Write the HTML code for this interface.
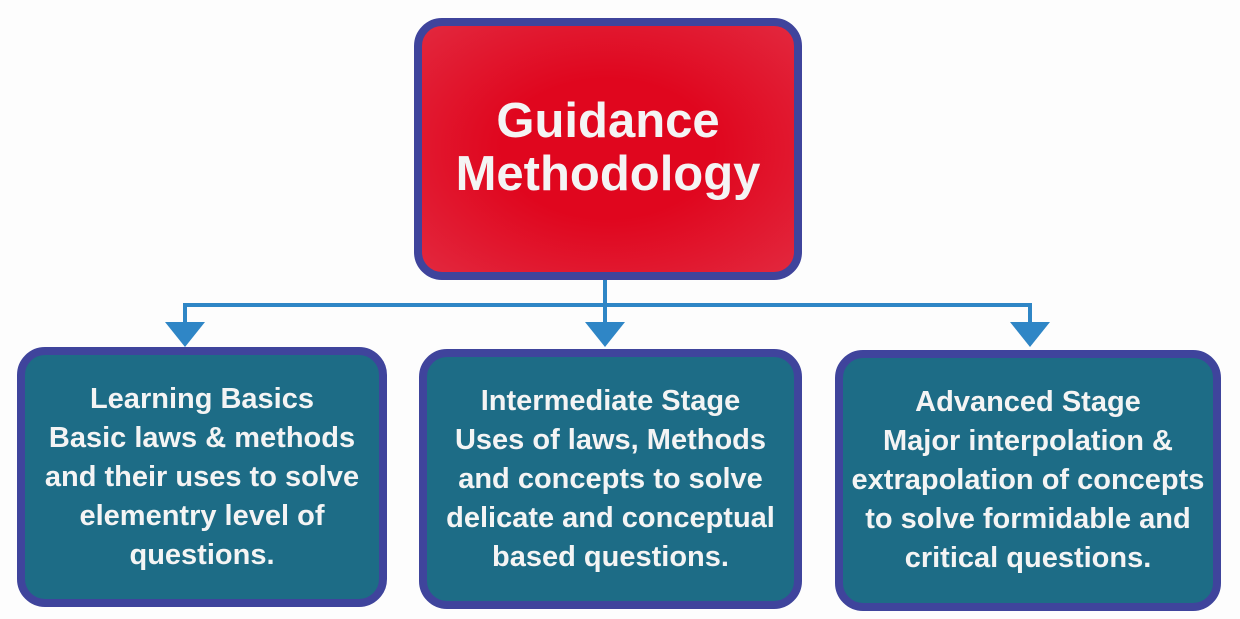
<!DOCTYPE html>
<html><head><style>
body{margin:0;width:1240px;height:619px;background:#fdfdfd;position:relative;overflow:hidden;font-family:"Liberation Sans Narrow","Liberation Sans",sans-serif;}
.box{position:absolute;box-sizing:border-box;border:8px solid #3f449c;border-radius:28px;color:#f4f4f4;text-align:center;display:flex;align-items:center;justify-content:center;}
.red{left:414px;top:18px;width:388px;height:262px;background:radial-gradient(ellipse at center,#e0061e 40%,#e2283e 100%);font-family:"Liberation Sans",sans-serif;font-weight:bold;font-size:49px;line-height:53px;padding-bottom:2px;}
.teal{background:#1d6c86;font-size:29px;line-height:39px;font-weight:bold;}
</style></head><body>
<svg width="1240" height="619" style="position:absolute;left:0;top:0">
<g stroke="#2f86c6" stroke-width="4" fill="none">
<line x1="605" y1="278" x2="605" y2="326"/>
<line x1="185" y1="305" x2="1032" y2="305"/>
<line x1="185" y1="303" x2="185" y2="326"/>
<line x1="1030" y1="303" x2="1030" y2="326"/>
</g>
<g fill="#2f86c6">
<polygon points="165,322 205,322 185,347"/>
<polygon points="585,322 625,322 605,347"/>
<polygon points="1010,322 1050,322 1030,347"/>
</g>
</svg>
<div class="box red"><div>Guidance<br>Methodology</div></div>
<div class="box teal" style="left:17px;top:347px;width:370px;height:260px;"><div>Learning Basics<br>Basic laws &amp; methods<br>and their uses to solve<br>elementry level of<br>questions.</div></div>
<div class="box teal" style="left:419px;top:349px;width:383px;height:260px;"><div>Intermediate Stage<br>Uses of laws, Methods<br>and concepts to solve<br>delicate and conceptual<br>based questions.</div></div>
<div class="box teal" style="left:835px;top:350px;width:386px;height:261px;"><div>Advanced Stage<br>Major interpolation &amp;<br>extrapolation of concepts<br>to solve formidable and<br>critical questions.</div></div>
</body></html>
